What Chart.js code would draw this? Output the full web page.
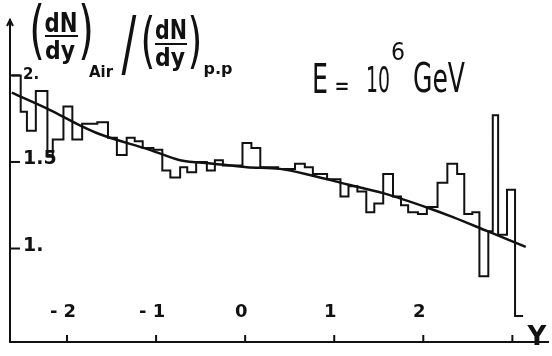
<!DOCTYPE html>
<html>
<head>
<meta charset="utf-8">
<script src="https://cdn.jsdelivr.net/npm/chart.js@4"></script>
<style>
  html, body { margin: 0; padding: 0; background: #fff; }
  #wrap { width: 552px; height: 356px; }
</style>
</head>
<body>
<div id="wrap"><canvas id="ratioChart"></canvas></div>
<script>
// rapidity bin edges (left edges, last entry closes the final bin)
const binEdges = [-2.62, -2.52, -2.45, -2.35, -2.22, -2.16, -2.04, -1.94, -1.83, -1.66,
  -1.54, -1.44, -1.33, -1.24, -1.15, -1.03, -0.93, -0.84, -0.73, -0.65,
  -0.55, -0.43, -0.34, -0.25, -0.03, 0.07, 0.17, 0.37, 0.56, 0.67,
  0.76, 0.92, 1.07, 1.16, 1.26, 1.36, 1.45, 1.55, 1.66, 1.75,
  1.83, 1.94, 2.04, 2.16, 2.27, 2.38, 2.46, 2.55, 2.63, 2.73,
  2.78, 2.84, 2.94, 3.03, 3.12];
// Air / p-p ratio per bin
const binValues = [2.00, 1.79, 1.68, 1.91, 1.53, 1.63, 1.82, 1.63, 1.72, 1.73,
  1.64, 1.54, 1.64, 1.62, 1.58, 1.57, 1.45, 1.41, 1.47, 1.44,
  1.50, 1.45, 1.51, 1.48, 1.61, 1.58, 1.47, 1.46, 1.49, 1.47,
  1.43, 1.40, 1.30, 1.36, 1.33, 1.21, 1.26, 1.43, 1.30, 1.25,
  1.21, 1.20, 1.24, 1.38, 1.49, 1.43, 1.20, 1.21, 0.84, 1.10,
  1.77, 1.08, 1.34, 0.61];

// smooth fit through the histogram
const fitY = [-2.62, -2.19, -1.85, -1.63, -1.07, -0.73, -0.36, 0.02, 0.39, 0.76, 1.15, 1.55, 2.08, 2.34, 2.72, 3.15];
const fitRatio = [1.90, 1.80, 1.71, 1.66, 1.57, 1.51, 1.49, 1.47, 1.46, 1.42, 1.37, 1.32, 1.23, 1.18, 1.10, 1.01];

const xTicks = [-2, -1, 0, 1, 2, 3];
const xTickLabels = ['- 2', '- 1', '0', '1', '2', ''];
const yTicks = [2, 1.5, 1];
const yTickLabels = ['2.', '1.5', '1.'];

const histPoints = binEdges.map((x, i) => ({ x: x, y: binValues[Math.min(i, binValues.length - 1)] }));
const fitPoints = fitY.map((x, i) => ({ x: x, y: fitRatio[i] }));

const INK = '#111';
const FONT = '"DejaVu Sans", sans-serif';

function txt(ctx, s, x, y, size, weight, maxW, align) {
  ctx.font = weight + ' ' + size + 'px ' + FONT;
  ctx.textAlign = align || 'center';
  ctx.textBaseline = 'alphabetic';
  if (maxW) ctx.fillText(s, x, y, maxW); else ctx.fillText(s, x, y);
}

// tall thin glyphs (brackets, slash): stretch vertically so strokes stay thin
function tall(ctx, s, x, y, size, sy) {
  ctx.save();
  ctx.translate(x, y);
  ctx.scale(1, sy);
  txt(ctx, s, 0, 0, size, 'normal');
  ctx.restore();
}

// axis ticks drawn inside the frame, plus the hand-lettered annotations
const decorations = {
  id: 'decorations',
  afterDraw(chart) {
    const ctx = chart.ctx;
    const xs = chart.scales.x, ys = chart.scales.y;
    const x0 = xs.left, yb = ys.bottom;
    ctx.save();
    ctx.fillStyle = INK;
    ctx.strokeStyle = INK;
    ctx.lineWidth = 2;

    // x ticks
    xTicks.forEach((v, i) => {
      const px = xs.getPixelForValue(v);
      ctx.beginPath();
      ctx.moveTo(px, yb);
      ctx.lineTo(px, yb - 7);
      ctx.stroke();
      if (xTickLabels[i]) txt(ctx, xTickLabels[i], px - 4, yb - 25, 18, 'bold');
    });

    // y ticks
    yTicks.forEach((v, i) => {
      const py = ys.getPixelForValue(v);
      ctx.beginPath();
      ctx.moveTo(x0, py);
      ctx.lineTo(x0 + 10, py);
      ctx.stroke();
      const sz = i === 0 ? 15 : 19;
      txt(ctx, yTickLabels[i], x0 + 13, py + (i === 0 ? 4 : 2), sz, 'bold', null, 'left');
    });

    // arrow head on the y axis
    const top = ys.top;
    ctx.beginPath();
    ctx.moveTo(x0 - 3, top + 6);
    ctx.lineTo(x0, top);
    ctx.lineTo(x0 + 3, top + 6);
    ctx.stroke();

    // axis name
    txt(ctx, 'Y', 537, 345, 26, 'bold');

    // y-axis quantity: (dN/dy)_Air / (dN/dy)_p.p
    tall(ctx, '(', 37, 52, 40, 1.6);
    txt(ctx, 'dN', 61, 32, 27, 'bold', 33);
    ctx.beginPath(); ctx.moveTo(45, 36); ctx.lineTo(78, 36); ctx.stroke();
    txt(ctx, 'dy', 60, 59, 24, 'bold', 30);
    tall(ctx, ')', 86, 52, 40, 1.6);
    txt(ctx, 'Air', 101, 77, 15, 'bold', 24);
    tall(ctx, '/', 129, 68, 44, 1.65);
    tall(ctx, '(', 148, 61, 38, 1.6);
    txt(ctx, 'dN', 171, 39, 27, 'bold', 32);
    ctx.beginPath(); ctx.moveTo(155, 44); ctx.lineTo(187, 44); ctx.stroke();
    txt(ctx, 'dy', 170, 66, 24, 'bold', 30);
    tall(ctx, ')', 195, 61, 38, 1.6);
    txt(ctx, 'p.p', 218, 74, 16, 'bold', 30);

    // energy
    txt(ctx, 'E', 320, 93, 40, 'normal', 16);
    txt(ctx, '=', 342, 95, 26, 'normal', 15);
    txt(ctx, '10', 378, 92, 36, 'normal', 24);
    txt(ctx, '6', 398, 60, 24, 'normal', 14);
    txt(ctx, 'GeV', 439, 92, 40, 'normal', 52);
    ctx.restore();
  }
};

new Chart(document.getElementById('ratioChart'), {
  type: 'line',
  data: {
    datasets: [
      {
        data: histPoints,
        stepped: 'before',
        borderColor: INK,
        borderWidth: 2,
        pointRadius: 0,
        fill: false
      },
      {
        data: fitPoints,
        cubicInterpolationMode: 'monotone',
        borderColor: INK,
        borderWidth: 2.5,
        pointRadius: 0,
        fill: false
      }
    ]
  },
  options: {
    responsive: true,
    maintainAspectRatio: false,
    animation: false,
    layout: { padding: { left: 10, right: 4, top: 20, bottom: 14 } },
    plugins: {
      legend: { display: false },
      tooltip: { enabled: false }
    },
    scales: {
      x: {
        type: 'linear',
        min: -2.64,
        max: 3.40,
        grid: { display: false, drawTicks: false },
        border: { display: true, color: INK, width: 2 },
        ticks: { display: false }
      },
      y: {
        min: 0.46,
        max: 2.32,
        grid: { display: false, drawTicks: false },
        border: { display: true, color: INK, width: 2 },
        ticks: { display: false }
      }
    }
  },
  plugins: [decorations]
});
</script>
</body>
</html>
